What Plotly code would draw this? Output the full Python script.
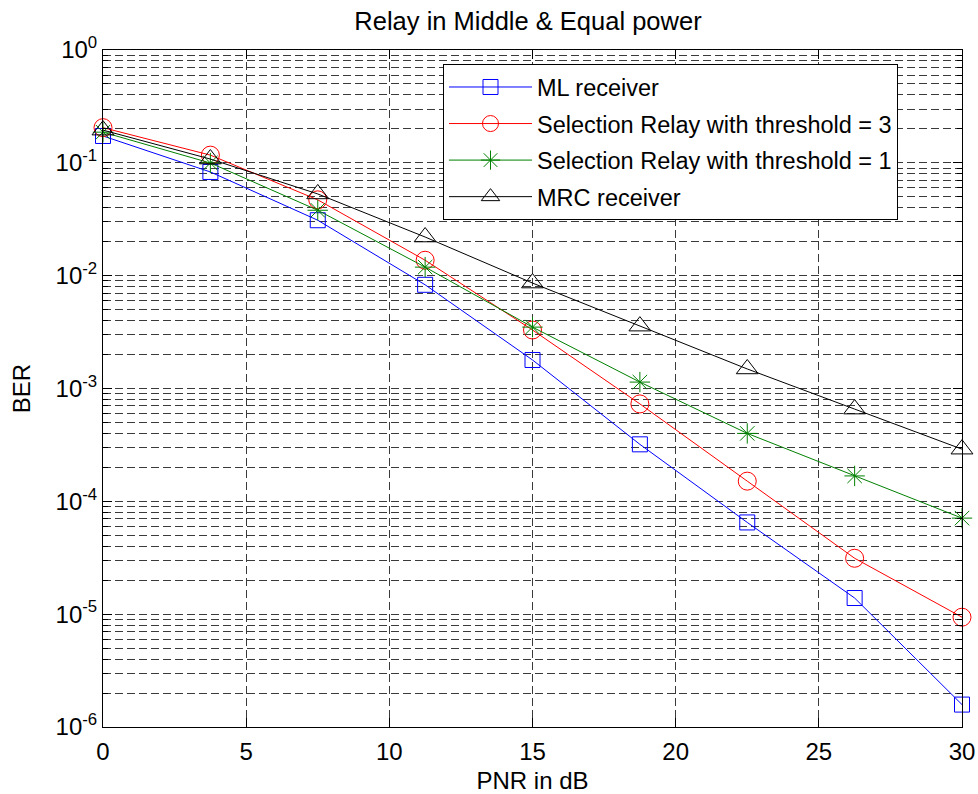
import plotly.graph_objects as go

pnr = [0, 3.75, 7.5, 11.25, 15, 18.75, 22.5, 26.25, 30]
ber_ml = [0.173, 0.083, 0.031, 0.0083, 0.00179, 3.2e-4, 6.5e-5, 1.39e-5, 1.58e-6]
ber_sel3 = [0.205, 0.117, 0.047, 0.0137, 0.0033, 7.3e-4, 1.51e-4, 3.13e-5, 9.4e-6]
ber_sel1 = [0.187, 0.0996, 0.038, 0.0119, 0.0035, 1.14e-3, 4.0e-4, 1.68e-4, 7.1e-5]
ber_mrc = [0.195, 0.108, 0.053, 0.022, 0.0086, 0.00357, 1.49e-3, 6.57e-4, 2.9e-4]

names = ["ML receiver", "Selection Relay with threshold = 3",
         "Selection Relay with threshold = 1", "MRC receiver"]
colors = ["#0000FF", "#FF0000", "#008000", "#000000"]
symbols = ["square-open", "circle-open", "asterisk-open", "triangle-up-open"]
sizes = [15, 18, 17, 19]
series = [ber_ml, ber_sel3, ber_sel1, ber_mrc]

ytick_vals = [1e-6, 1e-5, 1e-4, 1e-3, 1e-2, 1e-1, 1]
ytick_text = ["10<sup>-6</sup>", "10<sup>-5</sup>", "10<sup>-4</sup>", "10<sup>-3</sup>",
              "10<sup>-2</sup>", "10<sup>-1</sup>", "10<sup>0</sup>"]
xtick_vals = [0, 5, 10, 15, 20, 25, 30]

fig = go.Figure()
for i, (nm, c, s, sz, ys) in enumerate(zip(names, colors, symbols, sizes, series)):
    fig.add_trace(go.Scatter(
        x=pnr, y=ys, name=nm, mode="lines+markers", legendgroup=f"g{i}",
        line=dict(color=c, width=1),
        marker=dict(symbol=s, size=sz, color=c, line=dict(color=c, width=1)),
        cliponaxis=False,
    ))

font = "Liberation Sans, Arial, sans-serif"
grid_dash = "8px,4px"
gcol = "#3a3a3a"
fig.update_layout(
    width=978, height=794,
    margin=dict(l=103, r=16, t=50, b=67),
    paper_bgcolor="white", plot_bgcolor="white",
    font=dict(family=font, size=23, color="black"),
    title=dict(text="Relay in Middle & Equal power", x=528 / 978, xanchor="center",
               y=1 - 21 / 794, yanchor="middle", yref="container", font=dict(size=25.5)),
    showlegend=True,
    legend=dict(x=0.9255, xanchor="right", y=0.979, yanchor="top",
                bordercolor="black", borderwidth=1, bgcolor="white",
                font=dict(size=23.5), itemwidth=83, tracegroupgap=3,
                traceorder="grouped"),
)
fig.update_xaxes(
    range=[0, 30], tickvals=xtick_vals, showgrid=True, gridcolor=gcol,
    griddash=grid_dash, gridwidth=1, zeroline=False, automargin=False,
    showline=True, linecolor="black", linewidth=1, mirror="ticks",
    ticks="inside", ticklen=9, tickcolor="black",
    title=dict(text="PNR in dB", font=dict(size=24), standoff=9),
    tickfont=dict(size=24), ticklabelstandoff=3,
)
fig.update_yaxes(
    type="log", range=[-6, 0], tickvals=ytick_vals, ticktext=ytick_text,
    showgrid=True, gridcolor=gcol, griddash=grid_dash, gridwidth=1,
    zeroline=False, automargin=False, showline=True, linecolor="black", linewidth=1,
    mirror="ticks", ticks="inside", ticklen=9, tickcolor="black",
    minor=dict(dtick="D1", showgrid=True, gridcolor=gcol, griddash=grid_dash,
               ticks="inside", ticklen=5, tickcolor="black"),
    title=dict(text="BER", font=dict(size=24), standoff=18),
    tickfont=dict(size=24),
)

fig.write_html("out.html")
